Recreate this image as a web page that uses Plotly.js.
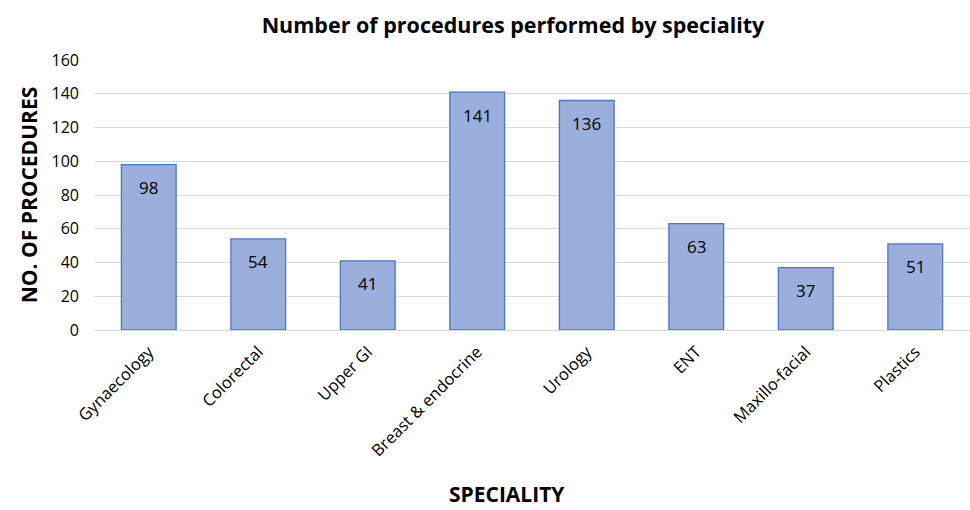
<!DOCTYPE html>
<html>
<head>
<meta charset="utf-8">
<script src="https://cdn.plot.ly/plotly-3.0.1.min.js"></script>
<style>html,body{margin:0;padding:0;background:#fff;}#chart{width:970px;height:510px;}</style>
</head>
<body>
<div id="chart"></div>
<script>
const categories = ["Gynaecology", "Colorectal", "Upper GI", "Breast & endocrine", "Urology", "ENT", "Maxillo-facial", "Plastics"];
const procedures = [98, 54, 41, 141, 136, 63, 37, 51];
const yTicks = [0, 20, 40, 60, 80, 100, 120, 140, 160];

const FONT = "Open Sans, Liberation Sans, sans-serif";

const trace = {
  type: "bar",
  x: categories,
  y: procedures,
  width: 0.5,
  marker: {
    color: "#9bafdd",
    line: { color: "#4a76c6", width: 1.3 }
  },
  hoverinfo: "none"
};

const annotations = categories.map((c, i) => ({
  x: c, y: procedures[i], xref: "x", yref: "y",
  text: String(procedures[i]), showarrow: false,
  yshift: -23, font: { family: FONT, size: 17, color: "#000" }
}));
annotations.push({
  text: "<b>SPECIALITY</b>", xref: "paper", yref: "paper",
  x: (507 - 94) / 876, y: (330 - 494) / 270, xanchor: "center", yanchor: "middle",
  showarrow: false, font: { family: FONT, size: 21, color: "#000" }
});

const layout = {
  width: 970, height: 510,
  margin: { l: 94, r: 0, t: 60, b: 180 },
  paper_bgcolor: "#fff", plot_bgcolor: "#fff",
  showlegend: false,
  title: {
    text: "<b>Number of procedures performed by speciality</b>",
    font: { family: FONT, size: 21.5, color: "#000" },
    x: 513 / 970, xanchor: "center", y: 1 - 25 / 510, yanchor: "middle"
  },
  xaxis: {
    tickangle: -45,
    tickfont: { family: FONT, size: 16.5, color: "#000" },
    showgrid: false, showline: false, ticks: "",
    ticklabelstandoff: 8
  },
  yaxis: {
    range: [0, 160],
    tickvals: yTicks,
    tickfont: { family: FONT, size: 16, color: "#000" },
    gridcolor: "#d9d9d9", gridwidth: 1,
    zeroline: true, zerolinecolor: "#d9d9d9", zerolinewidth: 1,
    showline: false, ticks: "", ticklen: 0,
    ticklabelstandoff: 14,
    title: { text: "<b>NO. OF PROCEDURES</b>", font: { family: FONT, size: 21, color: "#000" }, standoff: 8 }
  },
  annotations: annotations
};

Plotly.newPlot("chart", [trace], layout, { displayModeBar: false, staticPlot: true });
</script>
</body>
</html>
